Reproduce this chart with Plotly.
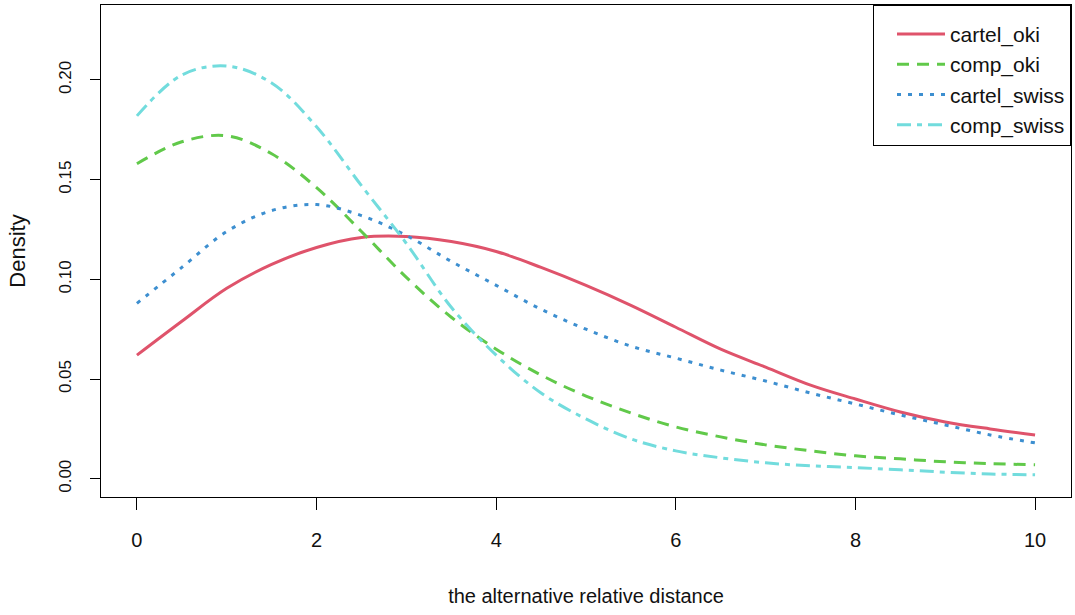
import plotly.graph_objects as go

x_vals = [0, 0.5, 1, 1.5, 2, 2.5, 3, 3.5, 4, 4.5, 5, 5.5, 6, 6.5, 7, 7.5, 8, 8.5, 9, 9.5, 10]

cartel_oki = [0.062, 0.079, 0.0955, 0.1075, 0.116, 0.121, 0.1215, 0.119, 0.114, 0.106, 0.097,
              0.087, 0.076, 0.065, 0.056, 0.047, 0.040, 0.0335, 0.0285, 0.025, 0.022]
comp_oki = [0.158, 0.169, 0.172, 0.163, 0.146, 0.124, 0.101, 0.081, 0.065, 0.052, 0.0415,
            0.033, 0.026, 0.021, 0.017, 0.014, 0.0115, 0.010, 0.0085, 0.0076, 0.007]
cartel_swiss = [0.088, 0.106, 0.124, 0.1345, 0.1375, 0.132, 0.122, 0.109, 0.097, 0.085, 0.075,
                0.0665, 0.0605, 0.0545, 0.049, 0.043, 0.0375, 0.032, 0.027, 0.022, 0.018]
comp_swiss = [0.182, 0.2025, 0.207, 0.1985, 0.1765, 0.147, 0.118, 0.086, 0.062, 0.043, 0.030,
              0.020, 0.014, 0.0105, 0.008, 0.0065, 0.0056, 0.0045, 0.0033, 0.0024, 0.002]

series_names = ["cartel_oki", "comp_oki", "cartel_swiss", "comp_swiss"]
series_values = [cartel_oki, comp_oki, cartel_swiss, comp_swiss]
colors = ["#DF536B", "#61C94A", "#3D8FD0", "#72DCDD"]
dashes = ["solid", "12px,8px", "4px,7px", "14px,6px,5px,6px"]

x_ticks = [0, 2, 4, 6, 8, 10]
y_ticks = [0.00, 0.05, 0.10, 0.15, 0.20]

fig = go.Figure()
for name, vals, c, d in zip(series_names, series_values, colors, dashes):
    fig.add_trace(go.Scatter(
        x=x_vals, y=vals, name=name, mode="lines", legendgroup=name,
        line=dict(color=c, width=3, dash=d, shape="spline", smoothing=1.0),
    ))

font_family = "Liberation Sans, Arial, sans-serif"

fig.update_layout(
    width=1075, height=615,
    margin=dict(l=101, r=4, t=5, b=118),
    paper_bgcolor="white", plot_bgcolor="white",
    font=dict(family=font_family, color="#111111", size=18),
    showlegend=True,
    legend=dict(
        x=1, y=1, xanchor="right", yanchor="top",
        bgcolor="white", bordercolor="black", borderwidth=1,
        font=dict(size=21, color="#111111"),
        tracegroupgap=0, indentation=18,
        itemwidth=48,
        title=dict(text=" ", font=dict(size=6)),
    ),
    xaxis=dict(
        range=[-0.4, 10.4], tickvals=x_ticks, ticktext=[str(v) for v in x_ticks],
        showgrid=False, zeroline=False,
        showline=True, linecolor="black", linewidth=1, mirror=True,
        ticks="outside", ticklen=12, tickcolor="black", tickwidth=1,
        tickfont=dict(size=20), ticklabelstandoff=13,
        title=dict(text="the alternative relative distance", font=dict(size=20), standoff=38),
    ),
    yaxis=dict(
        range=[-0.00914, 0.2376], tickvals=y_ticks, ticktext=["%.2f" % v for v in y_ticks],
        showgrid=False, zeroline=False,
        showline=True, linecolor="black", linewidth=1, mirror=True,
        ticks="outside", ticklen=10, tickcolor="black", tickwidth=1,
        tickangle=-90, tickfont=dict(size=17), ticklabelstandoff=12,
        title=dict(text="Density", font=dict(size=22), standoff=24),
    ),
)

fig.write_html("out.html")
